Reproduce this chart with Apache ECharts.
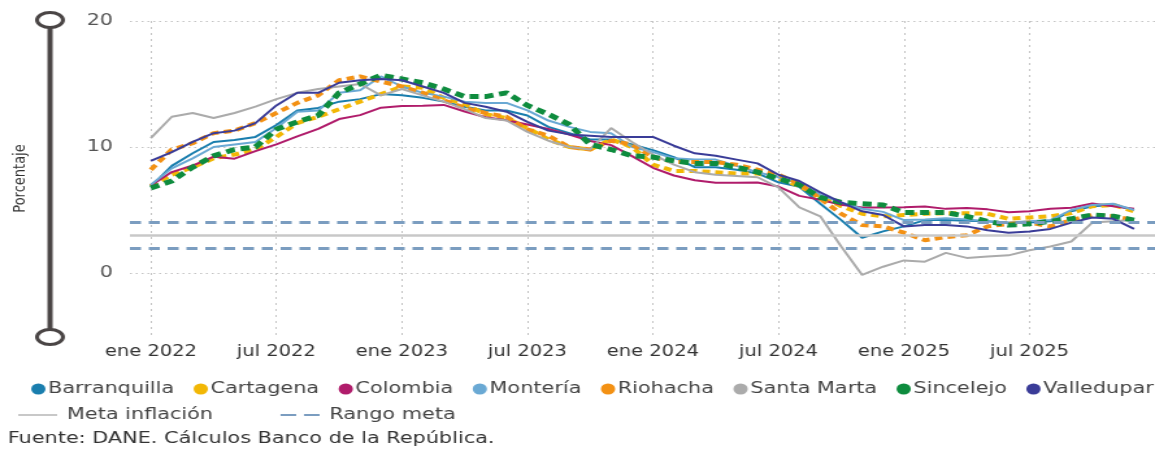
<!DOCTYPE html>
<html>
<head>
<meta charset="utf-8">
<script src="https://cdn.jsdelivr.net/npm/echarts@6/dist/echarts.min.js"></script>
<style>
  html, body { margin: 0; padding: 0; background: #fff; overflow: hidden; }
  /* the original picture is stretched sideways, so the chart is drawn narrower and widened */
  #chart { width: 889px; height: 451px; transform: scaleX(1.2992); transform-origin: 0 0; }
</style>
</head>
<body>
<div id="chart"></div>
<script>
// meses (con un mes de margen a cada lado, como en el original)
var months = ['dic 2021',
  'ene 2022','feb 2022','mar 2022','abr 2022','may 2022','jun 2022','jul 2022','ago 2022','sep 2022','oct 2022','nov 2022','dic 2022',
  'ene 2023','feb 2023','mar 2023','abr 2023','may 2023','jun 2023','jul 2023','ago 2023','sep 2023','oct 2023','nov 2023','dic 2023',
  'ene 2024','feb 2024','mar 2024','abr 2024','may 2024','jun 2024','jul 2024','ago 2024','sep 2024','oct 2024','nov 2024','dic 2024',
  'ene 2025','feb 2025','mar 2025','abr 2025','may 2025','jun 2025','jul 2025','ago 2025','sep 2025','oct 2025','nov 2025','dic 2025',
  'ene 2026'];

var barranquilla = [6.85, 8.5, 9.5, 10.4, 10.55, 10.8, 11.75, 12.9, 13.1, 13.6, 13.8, 14.2,
  14.1, 13.9, 13.6, 13.2, 12.9, 12.9, 12.5, 11.6, 11.1, 10.6, 10.6, 10.2,
  9.75, 9.2, 8.4, 8.4, 8.2, 7.9, 7.2, 6.85, 5.5, 4.2, 2.8, 3.3,
  3.7, 4.2, 4.2, 4.15, 4.1, 3.95, 4.0, 4.1, 4.9, 5.3, 5.4, 5.0];
var cartagena = [6.9, 7.8, 8.4, 9.1, 9.4, 9.8, 10.8, 11.9, 12.4, 13.0, 13.6, 14.2,
  14.8, 14.7, 13.9, 13.4, 12.6, 12.3, 11.5, 10.6, 10.0, 9.8, 10.6, 10.0,
  8.6, 8.1, 8.1, 8.0, 7.9, 7.9, 7.5, 6.9, 6.1, 5.3, 4.7, 4.5,
  4.6, 4.7, 4.75, 4.75, 4.7, 4.3, 4.4, 4.5, 4.75, 5.3, 5.4, 4.9];
var colombia = [6.94, 8.01, 8.53, 9.23, 9.07, 9.67, 10.21, 10.84, 11.44, 12.22, 12.53, 13.12,
  13.25, 13.28, 13.34, 12.82, 12.36, 12.13, 11.78, 11.43, 10.99, 10.48, 10.15, 9.28,
  8.35, 7.74, 7.36, 7.16, 7.16, 7.18, 6.86, 6.12, 5.81, 5.41, 5.20, 5.20,
  5.22, 5.28, 5.09, 5.16, 5.05, 4.82, 4.90, 5.10, 5.18, 5.51, 5.30, 5.10];
var monteria = [7.0, 8.3, 9.1, 10.0, 10.2, 10.4, 11.5, 12.8, 12.9, 14.3, 14.5, 15.6,
  14.8, 14.3, 14.0, 13.6, 13.5, 13.5, 12.9, 12.1, 11.6, 11.2, 11.1, 10.0,
  9.6, 9.1, 9.0, 9.0, 8.5, 8.0, 7.6, 7.1, 6.2, 5.6, 5.1, 4.85,
  4.2, 4.25, 4.35, 4.25, 4.1, 4.0, 4.1, 4.2, 5.0, 5.4, 5.5, 5.0];
var riohacha = [8.2, 9.8, 10.3, 11.1, 11.3, 11.9, 12.7, 13.5, 14.1, 15.3, 15.6, 15.2,
  14.8, 14.3, 13.7, 13.1, 12.7, 12.4, 11.4, 10.9, 10.0, 9.8, 10.5, 10.2,
  9.2, 8.8, 8.8, 8.8, 8.6, 8.2, 7.8, 7.1, 5.9, 4.7, 3.8, 3.7,
  3.2, 2.6, 2.85, 3.0, 3.7, 3.9, 4.0, 3.7, 4.2, 4.6, 4.5, 4.2];
var santaMarta = [10.7, 12.4, 12.7, 12.3, 12.7, 13.2, 13.8, 14.3, 14.6, 14.8, 15.0, 14.1,
  14.6, 14.1, 13.6, 13.0, 12.3, 12.1, 11.2, 10.5, 10.0, 9.8, 11.5, 10.4,
  9.4, 8.6, 8.0, 7.8, 7.7, 7.6, 6.8, 5.2, 4.5, 2.1, -0.15, 0.5,
  1.0, 0.9, 1.6, 1.2, 1.3, 1.4, 1.8, 2.1, 2.5, 4.0, 4.1, 4.2];
var sincelejo = [6.75, 7.3, 8.4, 9.3, 9.8, 10.0, 11.4, 12.0, 12.5, 14.3, 15.0, 15.7,
  15.4, 15.1, 14.6, 14.0, 14.0, 14.3, 13.3, 12.6, 11.8, 10.2, 9.8, 9.3,
  9.2, 8.9, 8.7, 8.7, 8.4, 8.0, 7.5, 7.0, 6.0, 5.6, 5.5, 5.4,
  4.8, 4.8, 4.8, 4.5, 4.1, 3.8, 3.9, 4.1, 4.3, 4.6, 4.5, 4.2];
var valledupar = [8.9, 9.6, 10.4, 11.1, 11.3, 11.9, 13.3, 14.3, 14.3, 15.1, 15.3, 15.4,
  15.3, 14.8, 14.3, 13.5, 13.2, 12.8, 12.0, 11.3, 11.0, 10.9, 10.8, 10.8,
  10.8, 10.1, 9.5, 9.3, 9.0, 8.7, 7.8, 7.3, 6.4, 5.6, 4.9, 4.6,
  3.7, 3.8, 3.8, 3.7, 3.4, 3.2, 3.3, 3.5, 4.0, 4.4, 4.3, 3.5];

var metaInflacion = 3;
var rangoMeta = [2, 4];
var yTickLabels = [0, 10, 20];

var FONT = 'DejaVu Sans';

var cities = [
  { name: 'Barranquilla', data: barranquilla, color: '#1A7EAE', width: 2, dash: 'solid' },
  { name: 'Cartagena', data: cartagena, color: '#F2B705', width: 4, dash: [6, 4] },
  { name: 'Colombia', data: colombia, color: '#B01C6B', width: 2, dash: 'solid' },
  { name: 'Montería', data: monteria, color: '#6AA9D4', width: 2, dash: 'solid' },
  { name: 'Riohacha', data: riohacha, color: '#F39114', width: 4, dash: [6, 4] },
  { name: 'Santa Marta', data: santaMarta, color: '#ABABAB', width: 2, dash: 'solid' },
  { name: 'Sincelejo', data: sincelejo, color: '#0E8C3E', width: 5, dash: [7, 4.5] },
  { name: 'Valledupar', data: valledupar, color: '#3A3C98', width: 2, dash: 'solid' }
];

function isTickMonth(index, value) {
  return index >= 1 && index <= months.length - 2 &&
    (value.indexOf('ene') === 0 || value.indexOf('jul') === 0);
}

var series = [
  {
    name: 'Meta inflación', type: 'line', data: [], symbol: 'none',
    itemStyle: { color: '#C8C8C8' }, lineStyle: { color: '#C8C8C8' },
    markLine: {
      silent: true, symbol: 'none', label: { show: false },
      lineStyle: { color: '#C8C8C8', width: 2.5, type: 'solid' },
      data: [{ yAxis: metaInflacion }]
    }
  },
  {
    name: 'Rango meta', type: 'line', data: [], symbol: 'none',
    itemStyle: { color: '#7B9DC0' }, lineStyle: { color: '#7B9DC0' },
    markLine: {
      silent: true, symbol: 'none', label: { show: false },
      lineStyle: { color: '#7B9DC0', width: 3, type: [8.5, 6] },
      data: rangoMeta.map(function (v) { return { yAxis: v }; })
    }
  }
];
cities.forEach(function (c) {
  series.push({
    name: c.name,
    type: 'line',
    data: [null].concat(c.data),
    symbol: 'none',
    itemStyle: { color: c.color },
    lineStyle: { color: c.color, width: c.width, type: c.dash },
    emphasis: { disabled: true }
  });
});

var myChart = echarts.init(document.getElementById('chart'));
var option = {
  animation: false,
  backgroundColor: '#fff',
  title: {
    text: 'Fuente: DANE. Cálculos Banco de la República.',
    left: 6, top: 431,
    padding: 0,
    textStyle: { fontFamily: FONT, fontSize: 16, fontWeight: 'normal', color: '#333' }
  },
  legend: [
    {
      data: cities.map(function (c) { return c.name; }),
      left: 19, top: 376, width: 880,
      icon: 'circle', itemWidth: 11, itemHeight: 11, itemGap: 15,
      textStyle: { fontFamily: FONT, fontSize: 16, color: '#444', padding: [0, 0, 0, -3] }
    },
    {
      data: [
        { name: 'Meta inflación', icon: 'path://M0,0H30V2H0Z' },
        { name: 'Rango meta', icon: 'path://M0,0H12V2H0Z M18,0H30V2H18Z' }
      ],
      left: 9, top: 402, width: 600,
      itemWidth: 33, itemHeight: 2, itemGap: 52,
      textStyle: { fontFamily: FONT, fontSize: 16, color: '#444', padding: [0, 0, 0, 1] }
    }
  ],
  grid: { left: 100, right: -2, top: 21, bottom: 115 },
  xAxis: {
    type: 'category',
    data: months,
    boundaryGap: false,
    axisLine: { show: false },
    axisTick: { show: false },
    axisLabel: {
      interval: isTickMonth,
      margin: 9,
      fontFamily: FONT, fontSize: 15, color: '#333'
    },
    splitLine: {
      show: true,
      interval: isTickMonth,
      lineStyle: { color: '#C4C4C4', width: 1, type: [2, 4] }
    }
  },
  yAxis: {
    type: 'value',
    min: -5, max: 20, interval: 5,
    name: 'Porcentaje',
    nameLocation: 'middle',
    nameGap: 78,
    nameTextStyle: { fontFamily: FONT, fontSize: 13, color: '#333' },
    axisLine: { show: false },
    axisTick: { show: false },
    axisLabel: {
      margin: 13,
      fontFamily: FONT, fontSize: 16, color: '#555',
      formatter: function (v) { return yTickLabels.indexOf(v) >= 0 ? String(v) : ''; }
    },
    splitLine: {
      show: true,
      lineStyle: { color: ['transparent', '#C4C4C4'], width: 1.2, type: [1.5, 3] }
    }
  },
  graphic: [
    { type: 'line', shape: { x1: 38.5, y1: 27, x2: 38.5, y2: 330 }, style: { stroke: '#4A4545', lineWidth: 4 } },
    { type: 'ellipse', shape: { cx: 38.5, cy: 20, rx: 10, ry: 7.5 }, style: { fill: '#fff', stroke: '#4A4545', lineWidth: 3 } },
    { type: 'ellipse', shape: { cx: 38.5, cy: 337, rx: 10, ry: 7.5 }, style: { fill: '#fff', stroke: '#4A4545', lineWidth: 3 } }
  ],
  series: series
};
myChart.setOption(option);
window.addEventListener('resize', function () {
  myChart.resize();
});
</script>
</body>
</html>
